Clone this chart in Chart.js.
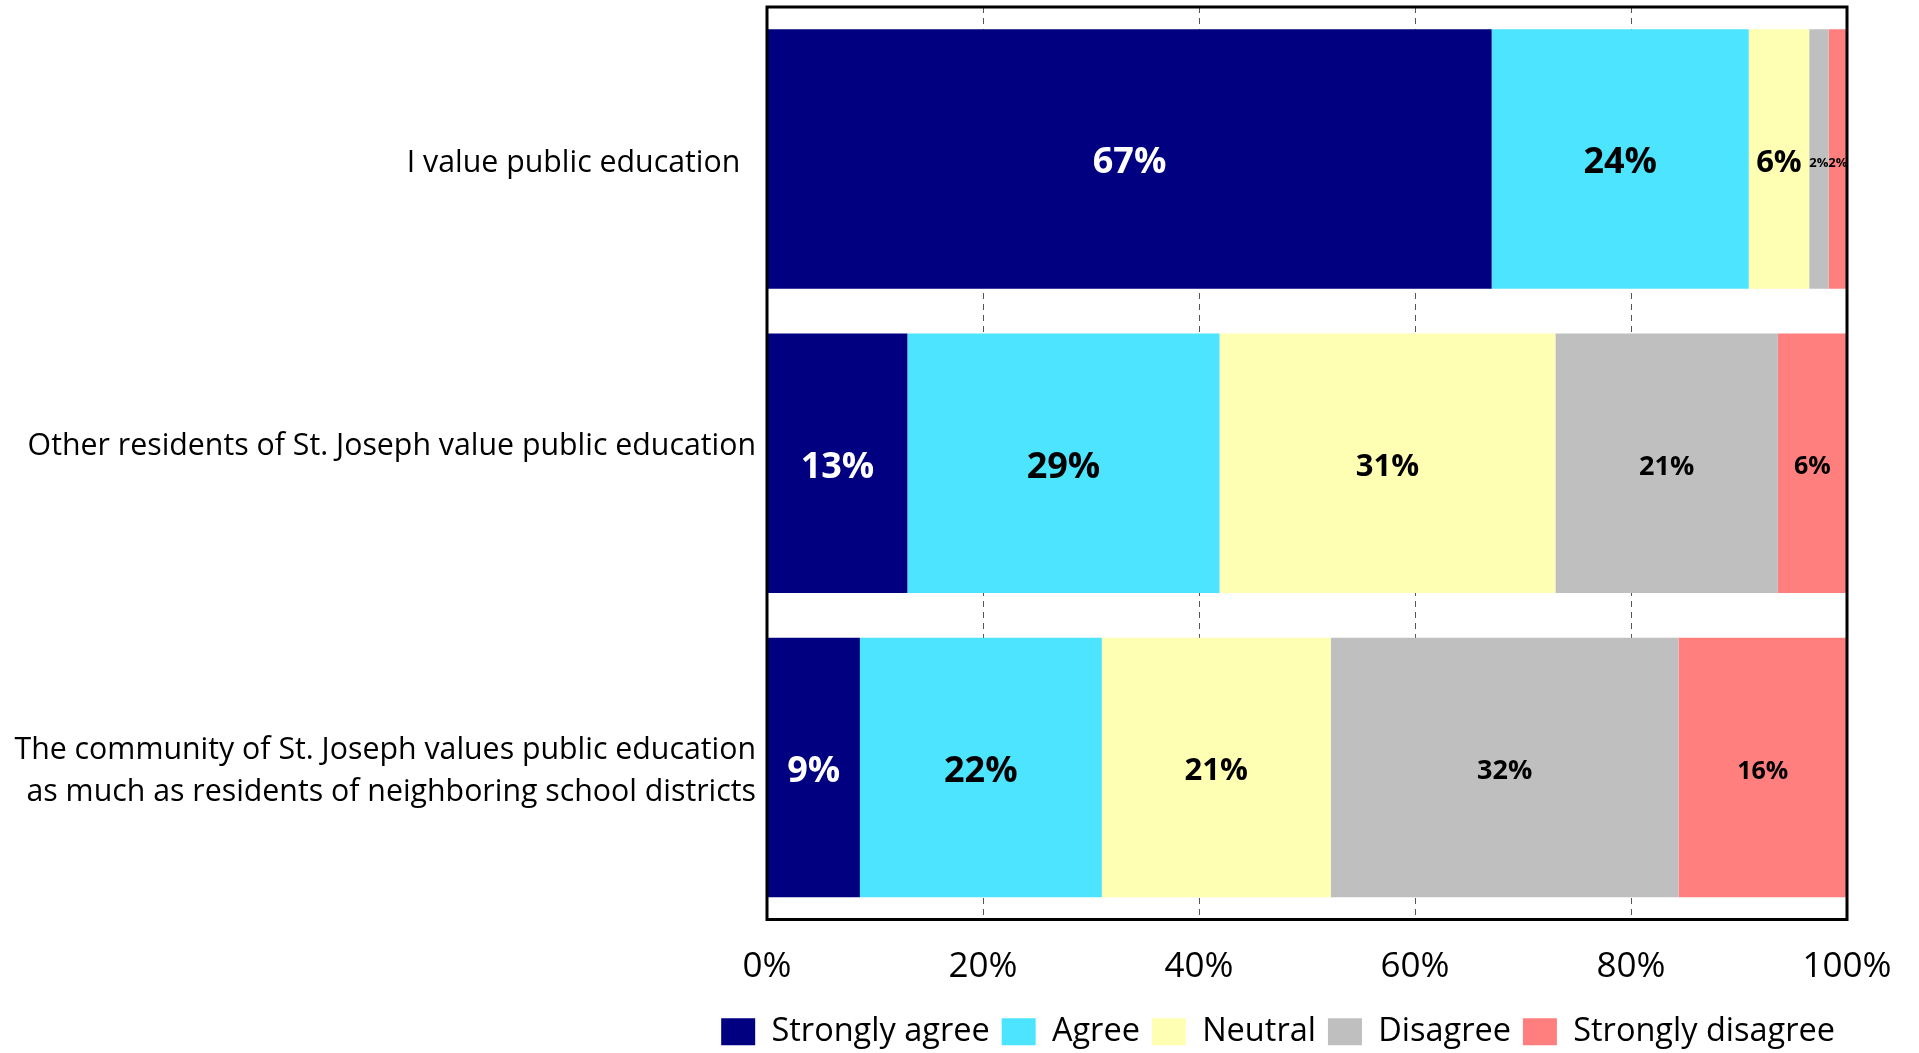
<!DOCTYPE html>
<html lang="en">
<head>
<meta charset="utf-8">
<title>St. Joseph - public education</title>
<script src="https://cdn.jsdelivr.net/npm/chart.js@4.4.1/dist/chart.umd.min.js"></script>
<style>
  html, body { margin: 0; padding: 0; background: #ffffff; }
  #contenedor { width: 1919px; height: 1053px; }
</style>
</head>
<body>
<div id="contenedor"><canvas id="graficoEducacion"></canvas></div>
<script>
// Datos (porcentaje de respuestas por afirmación)
const categorias = [
  'I value public education  ',
  ['Other residents of St. Joseph value public education', ''],
  ['The community of St. Joseph values public education', 'as much as residents of neighboring school districts']
];
const nombresSeries = ['Strongly agree', 'Agree', 'Neutral', 'Disagree', 'Strongly disagree'];
const muyDeAcuerdo = [67.1, 13.0, 8.6];
const deAcuerdo = [23.8, 28.9, 22.4];
const neutral = [5.6, 31.1, 21.2];
const enDesacuerdo = [1.8, 20.6, 32.2];
const muyEnDesacuerdo = [1.7, 6.4, 15.6];
const ticksX = [0, 20, 40, 60, 80, 100];

// Estilos (colores y tamaños de las etiquetas de cada serie)
const colores = ['#000080', '#4CE4FF', '#FFFFB3', '#BFBFBF', '#FF7F7F'];
const tamanosEtiqueta = [36, 36, 31, 27, 25];
const fuente = '"Open Sans", "Noto Sans", sans-serif';

const valoresSeries = [muyDeAcuerdo, deAcuerdo, neutral, enDesacuerdo, muyEnDesacuerdo];

// Plugin: marco negro del área y porcentajes dentro de cada barra
const etiquetasBarras = {
  id: 'etiquetasBarras',
  afterDatasetsDraw(chart) {
    const ctx = chart.ctx;
    const area = chart.chartArea;
    ctx.save();
    ctx.strokeStyle = '#000000';
    ctx.lineWidth = 3;
    ctx.strokeRect(area.left, area.top, area.right - area.left, area.bottom - area.top);

    ctx.textAlign = 'center';
    ctx.textBaseline = 'middle';
    chart.data.datasets.forEach((ds, i) => {
      const meta = chart.getDatasetMeta(i);
      meta.data.forEach((barra, j) => {
        const texto = Math.round(ds.data[j]) + '%';
        const ancho = Math.abs(barra.x - barra.base);
        ctx.font = 'bold ' + tamanosEtiqueta[i] + 'px ' + fuente;
        // si no cabe, letra pequeña como en el original
        if (ctx.measureText(texto).width > ancho) {
          ctx.font = 'bold 13px ' + fuente;
        }
        ctx.fillStyle = i === 0 ? '#ffffff' : '#000000';
        // +4: la fuente queda algo alta respecto a Calibri
        ctx.fillText(texto, (barra.x + barra.base) / 2, barra.y + 4);
      });
    });
    ctx.restore();
  }
};

const ctx = document.getElementById('graficoEducacion').getContext('2d');
new Chart(ctx, {
  type: 'bar',
  data: {
    labels: categorias,
    datasets: nombresSeries.map((nombre, i) => ({
      label: nombre,
      data: valoresSeries[i],
      backgroundColor: colores[i],
      borderWidth: 0,
      categoryPercentage: 1,
      barPercentage: 0.853
    }))
  },
  options: {
    indexAxis: 'y',
    responsive: true,
    maintainAspectRatio: false,
    animation: false,
    devicePixelRatio: 1,
    layout: { padding: { left: 0, right: 72, top: 7, bottom: -5 } },
    scales: {
      x: {
        stacked: true,
        min: 0,
        max: 100,
        afterBuildTicks: (escala) => { escala.ticks = ticksX.map(v => ({ value: v })); },
        afterFit: (escala) => { escala.height = 84; },
        ticks: {
          padding: 27,
          color: '#000000',
          font: { family: fuente, size: 35 },
          callback: (v) => v + '%'
        },
        grid: {
          drawTicks: false,
          lineWidth: 1,
          color: (c) => (c.tick && (c.tick.value === 0 || c.tick.value === 100)) ? 'rgba(0,0,0,0)' : '#555555'
        },
        border: { display: false, dash: [6, 5] }
      },
      y: {
        stacked: true,
        afterFit: (escala) => {
          escala.width = 767;
          // sin margen extra arriba/abajo por las etiquetas de varias líneas
          escala.paddingTop = 0;
          escala.paddingBottom = 0;
        },
        ticks: {
          padding: 11,
          labelOffset: 4,
          color: '#000000',
          font: { family: fuente, size: 30.3, lineHeight: 1.38 }
        },
        grid: { display: false, drawTicks: false },
        border: { display: false }
      }
    },
    plugins: {
      legend: {
        position: 'bottom',
        align: 'end',
        labels: {
          boxWidth: 34,
          boxHeight: 27,
          padding: 12,
          color: '#000000',
          font: { family: fuente, size: 32.5 }
        }
      },
      tooltip: { enabled: false }
    }
  },
  plugins: [etiquetasBarras]
});
</script>
</body>
</html>
